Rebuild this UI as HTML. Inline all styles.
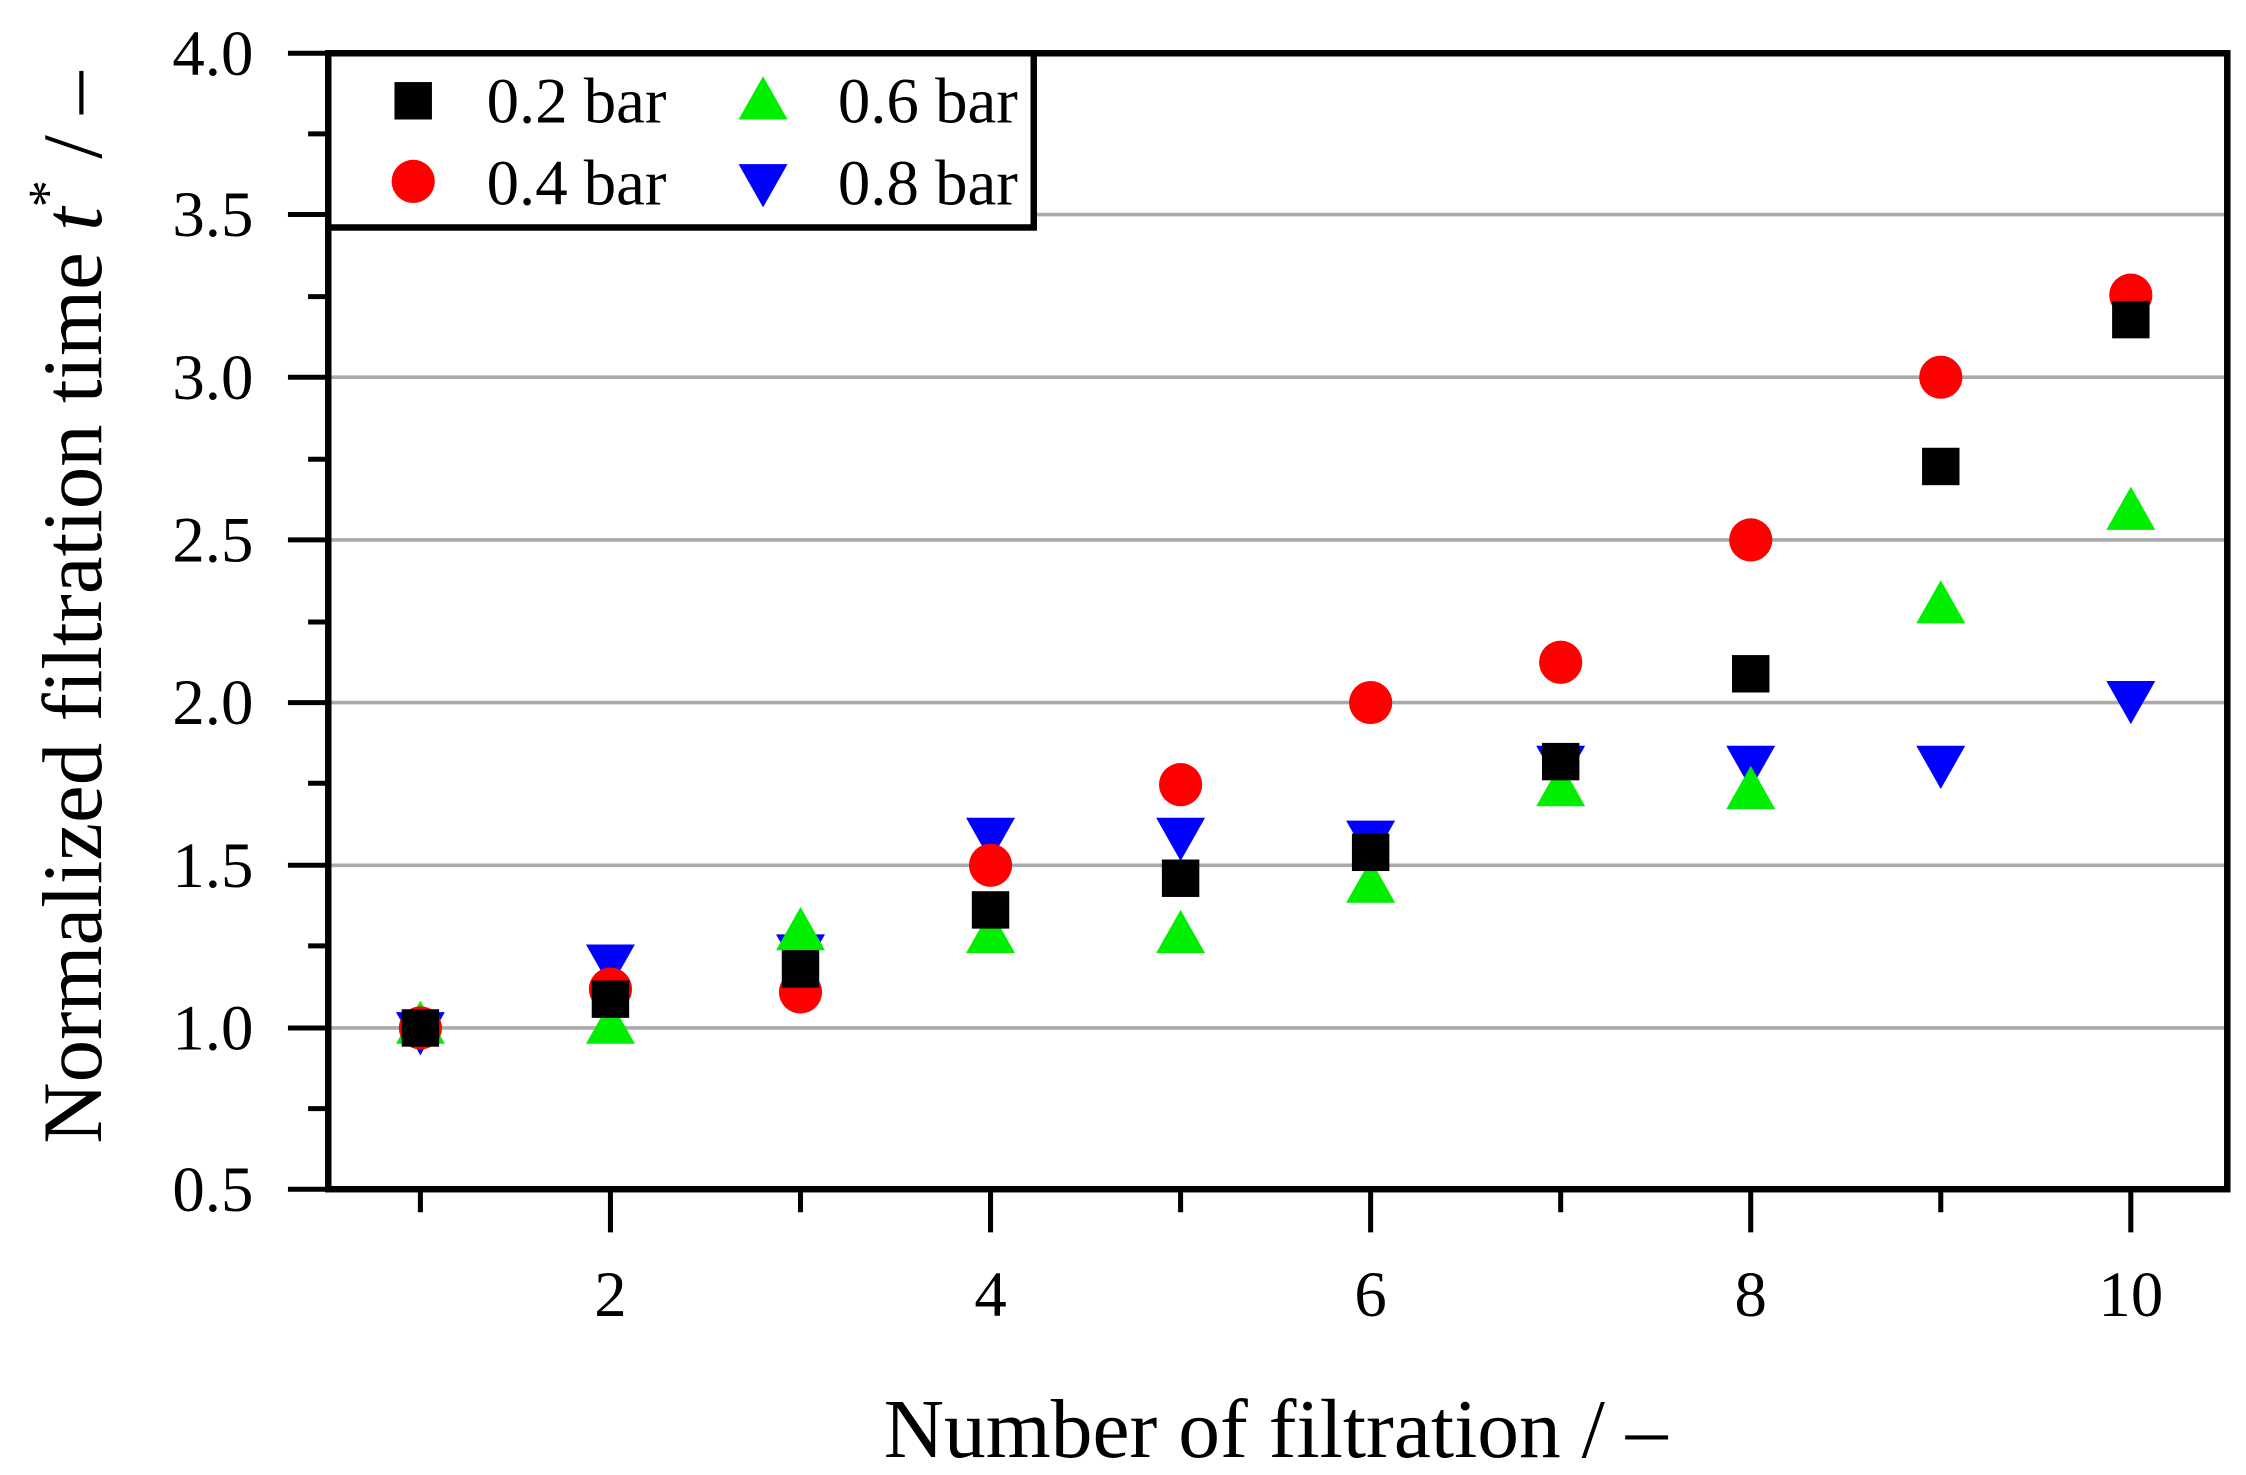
<!DOCTYPE html>
<html><head><style>html,body{margin:0;padding:0;background:#fff;width:2246px;height:1475px;overflow:hidden}</style></head>
<body>
<svg width="2246" height="1475" viewBox="0 0 1560 1024.5" preserveAspectRatio="none" xmlns="http://www.w3.org/2000/svg" font-family="Liberation Serif, serif">
<rect width="1560" height="1025" fill="#fff"/>
<g stroke="#aaa" stroke-width="2.5">
<line x1="228" x2="1547" y1="714" y2="714"/><line x1="228" x2="1547" y1="601" y2="601"/>
<line x1="228" x2="1547" y1="488" y2="488"/><line x1="228" x2="1547" y1="375" y2="375"/>
<line x1="228" x2="1547" y1="262" y2="262"/><line x1="228" x2="1547" y1="149" y2="149"/>
</g>
<g stroke="#000" stroke-width="3.5">
<line x1="200" x2="228" y1="826" y2="826"/><line x1="200" x2="228" y1="714" y2="714"/><line x1="200" x2="228" y1="601" y2="601"/><line x1="200" x2="228" y1="488" y2="488"/><line x1="200" x2="228" y1="375" y2="375"/><line x1="200" x2="228" y1="262" y2="262"/><line x1="200" x2="228" y1="149" y2="149"/><line x1="200" x2="228" y1="37" y2="37"/>
<line x1="214" x2="228" y1="770" y2="770"/><line x1="214" x2="228" y1="657" y2="657"/><line x1="214" x2="228" y1="544" y2="544"/><line x1="214" x2="228" y1="432" y2="432"/><line x1="214" x2="228" y1="319" y2="319"/><line x1="214" x2="228" y1="206" y2="206"/><line x1="214" x2="228" y1="93" y2="93"/>
<line x1="424" x2="424" y1="826" y2="856"/><line x1="688" x2="688" y1="826" y2="856"/><line x1="952" x2="952" y1="826" y2="856"/><line x1="1216" x2="1216" y1="826" y2="856"/><line x1="1480" x2="1480" y1="826" y2="856"/>
<line x1="292" x2="292" y1="826" y2="842"/><line x1="556" x2="556" y1="826" y2="842"/><line x1="820" x2="820" y1="826" y2="842"/><line x1="1084" x2="1084" y1="826" y2="842"/><line x1="1348" x2="1348" y1="826" y2="842"/>
</g>
<rect x="228" y="37" width="1319" height="789" fill="none" stroke="#000" stroke-width="4.5"/>
<g font-size="45" text-anchor="end">
<text x="176" y="841">0.5</text><text x="176" y="729">1.0</text><text x="176" y="616">1.5</text><text x="176" y="503">2.0</text><text x="176" y="390">2.5</text><text x="176" y="277">3.0</text><text x="176" y="164">3.5</text><text x="176" y="52">4.0</text>
</g>
<g font-size="45" text-anchor="middle">
<text x="424" y="914">2</text><text x="688" y="914">4</text><text x="952" y="914">6</text><text x="1216" y="914">8</text><text x="1480" y="914">10</text>
</g>
<text x="886" y="1012" font-size="58" text-anchor="middle">Number of filtration / –</text>
<text transform="translate(70,422) rotate(-90)" font-size="59" text-anchor="middle">Normalized filtration time <tspan font-style="italic">t</tspan><tspan font-size="38" dy="-24">*</tspan><tspan dy="24"> / –</tspan></text>
<defs>
<path id="dn" d="M-17,-15 L17,-15 L0,15 Z"/>
<path id="up" d="M-17,15 L17,15 L0,-15 Z"/>
</defs>
<g fill="#0000ff">
<use href="#dn" x="292" y="718"/><use href="#dn" x="424" y="671"/><use href="#dn" x="556" y="664"/><use href="#dn" x="688" y="583"/><use href="#dn" x="820" y="583"/><use href="#dn" x="952" y="585"/><use href="#dn" x="1084" y="533"/><use href="#dn" x="1216" y="533"/><use href="#dn" x="1348" y="533"/><use href="#dn" x="1480" y="488"/>
</g>
<g fill="#00ee00">
<use href="#up" x="292" y="710"/><use href="#up" x="424" y="710"/><use href="#up" x="556" y="645"/><use href="#up" x="688" y="647"/><use href="#up" x="820" y="647"/><use href="#up" x="952" y="612"/><use href="#up" x="1084" y="545"/><use href="#up" x="1216" y="547"/><use href="#up" x="1348" y="418"/><use href="#up" x="1480" y="353"/>
</g>
<g fill="#ff0000">
<circle cx="292" cy="714" r="15"/><circle cx="424" cy="687" r="15"/><circle cx="556" cy="689" r="15"/><circle cx="688" cy="601" r="15"/><circle cx="820" cy="545" r="15"/><circle cx="952" cy="488" r="15"/><circle cx="1084" cy="460" r="15"/><circle cx="1216" cy="375" r="15"/><circle cx="1348" cy="262" r="15"/><circle cx="1480" cy="205" r="15"/>
</g>
<g fill="#000">
<rect x="279" y="701" width="26" height="26"/><rect x="411" y="681" width="26" height="26"/><rect x="543" y="660" width="26" height="26"/><rect x="675" y="619" width="26" height="26"/><rect x="807" y="597" width="26" height="26"/><rect x="939" y="579" width="26" height="26"/><rect x="1071" y="516" width="26" height="26"/><rect x="1203" y="455" width="26" height="26"/><rect x="1335" y="311" width="26" height="26"/><rect x="1467" y="209" width="26" height="26"/>
</g>
<rect x="228" y="37" width="490" height="121" fill="#fff" stroke="#000" stroke-width="4.5"/>
<rect x="274" y="57" width="26" height="26" fill="#000"/>
<circle cx="287" cy="126" r="15" fill="#ff0000"/>
<use href="#up" x="530" y="68" fill="#00ee00"/>
<use href="#dn" x="530" y="129" fill="#0000ff"/>
<g font-size="45">
<text x="338" y="85">0.2 bar</text><text x="338" y="142">0.4 bar</text>
<text x="582" y="85">0.6 bar</text><text x="582" y="142">0.8 bar</text>
</g>
</svg>
</body></html>
